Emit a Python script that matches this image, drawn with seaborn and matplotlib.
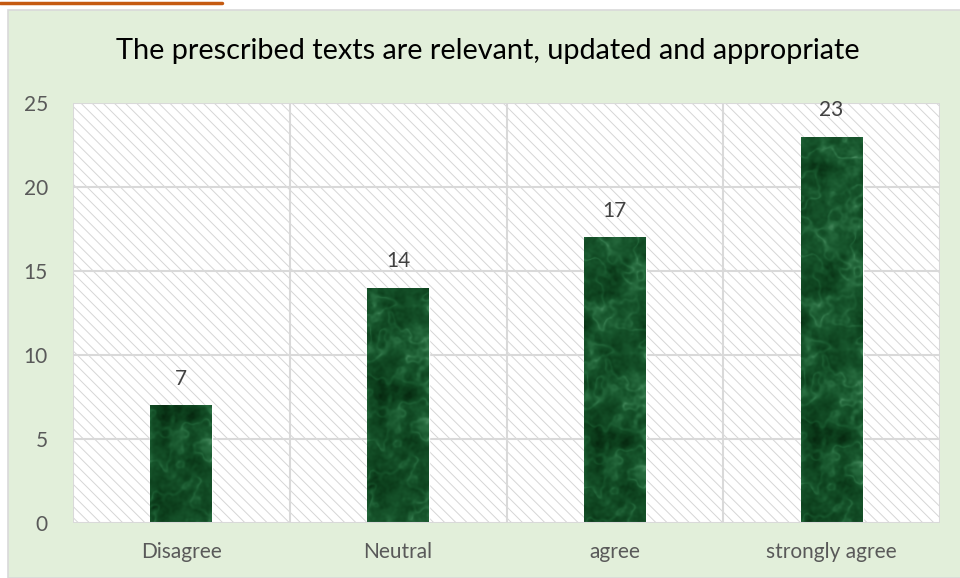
import numpy as np
import pandas as pd
import matplotlib
matplotlib.use("Agg")
import matplotlib.pyplot as plt
import matplotlib.patches as mpatches
from matplotlib.colors import LinearSegmentedColormap
from matplotlib.lines import Line2D
import seaborn as sns

# ── Data ──────────────────────────────────────────────────────────────────────
categories = ["Disagree", "Neutral", "agree", "strongly agree"]
counts = [7, 14, 17, 23]
title = "The prescribed texts are relevant, updated and appropriate"
y_ticks = [0, 5, 10, 15, 20, 25]

# ── Style ─────────────────────────────────────────────────────────────────────
sns.set_style("white")
plt.rcParams["font.family"] = ["Lato", "DejaVu Sans"]
plt.rcParams["hatch.linewidth"] = 0.7

BG = "#e2efda"
GRID = "#d9d9d9"
TXT = "#595959"

df = pd.DataFrame({"answer": categories, "count": counts})

fig = plt.figure(figsize=(9.6, 5.78), dpi=100)
fig.patch.set_facecolor("white")

# chart frame
frame = mpatches.Rectangle((8 / 960, 0), 1.0, 1 - 10 / 578,
                           transform=fig.transFigure, facecolor=BG,
                           edgecolor=GRID, linewidth=1.2, zorder=-10)
fig.add_artist(frame)
# orange underline of the cut-off heading above the chart
fig.add_artist(Line2D([0, 222 / 960], [1 - 3 / 578] * 2, transform=fig.transFigure,
                      color="#c55a11", linewidth=2.5))

ax = fig.add_axes([73 / 960, 1 - 523 / 578, (940 - 73) / 960, (523 - 103) / 578])
ax.set_facecolor("white")

# hatched plot area
ax.add_patch(mpatches.Rectangle((0, 0), 1, 1, transform=ax.transAxes,
                                facecolor="white", edgecolor="#d6d6d6", linewidth=0,
                                hatch="\\\\\\", zorder=0, label="_bg"))

sns.barplot(data=df, x="answer", y="count", ax=ax, width=0.286,
            color="#1b5e35", saturation=1, zorder=3)

ax.set_xlim(-0.5, len(categories) - 0.5)
ax.set_ylim(0, 25)
ax.set_yticks(y_ticks)

# grid
for y in y_ticks[1:]:
    ax.axhline(y, color=GRID, linewidth=1.5, zorder=1)
for i in range(len(categories) + 1):
    ax.axvline(i - 0.5, color=GRID, linewidth=1.5, zorder=1)
for s in ax.spines.values():
    s.set_visible(False)
ax.axhline(0, color=GRID, linewidth=1.5, zorder=4)

# marble texture (pixel-scale noise, decoration only)
rng = np.random.default_rng(7)
H, W = 420, 70


def blurred(sigma):
    g = rng.standard_normal((H, W))
    ky = np.fft.fftfreq(H)[:, None]
    kx = np.fft.fftfreq(W)[None, :]
    out = np.real(np.fft.ifft2(np.fft.fft2(g) * np.exp(-2 * (np.pi * sigma) ** 2 * (kx ** 2 + ky ** 2))))
    return out / out.std()


cloud = 0.6 * blurred(9) + 0.35 * blurred(3.5) + 0.2 * blurred(1.2)
vein_field = blurred(8) + 0.5 * blurred(3)
veins = np.exp(-(vein_field / 0.4) ** 2)
tex = 0.42 + 0.16 * cloud + 0.22 * veins
tex = np.clip(tex, 0, 1)
marble = LinearSegmentedColormap.from_list(
    "marble", ["#05240d", "#0d401d", "#17552c", "#2a6f42", "#5a9a70"])

bars = [p for p in ax.patches if p.get_label() != "_bg"]
fig.canvas.draw()
for i, bar in enumerate(bars):
    x0, w, h = bar.get_x(), bar.get_width(), bar.get_height()
    bb = bar.get_window_extent()
    hp, wp = max(int(bb.height), 2), max(int(bb.width), 2)
    block = np.roll(tex, i * 97, axis=0)[:hp, :wp]
    im = ax.imshow(block, cmap=marble, vmin=0, vmax=1, extent=(x0, x0 + w, 0, h),
                   aspect="auto", zorder=3, interpolation="bilinear")
    im.set_clip_path(bar)
    ax.text(x0 + w / 2, h + 1.0, f"{counts[i]}", ha="center", va="bottom",
            fontsize=15, color="#404040", zorder=5)

ax.set_xlim(-0.5, len(categories) - 0.5)
ax.set_ylim(0, 25)
ax.set_xlabel("")
ax.set_ylabel("")
ax.tick_params(axis="both", length=0, labelsize=15, labelcolor=TXT)
ax.tick_params(axis="y", pad=18)
ax.tick_params(axis="x", pad=14)

fig.text(0.5 + 16 / 1920, 1 - 51 / 578, title, ha="center", va="center",
         fontsize=20.8, color="#000000")

fig.savefig("out.png", dpi=100, facecolor=fig.get_facecolor())
